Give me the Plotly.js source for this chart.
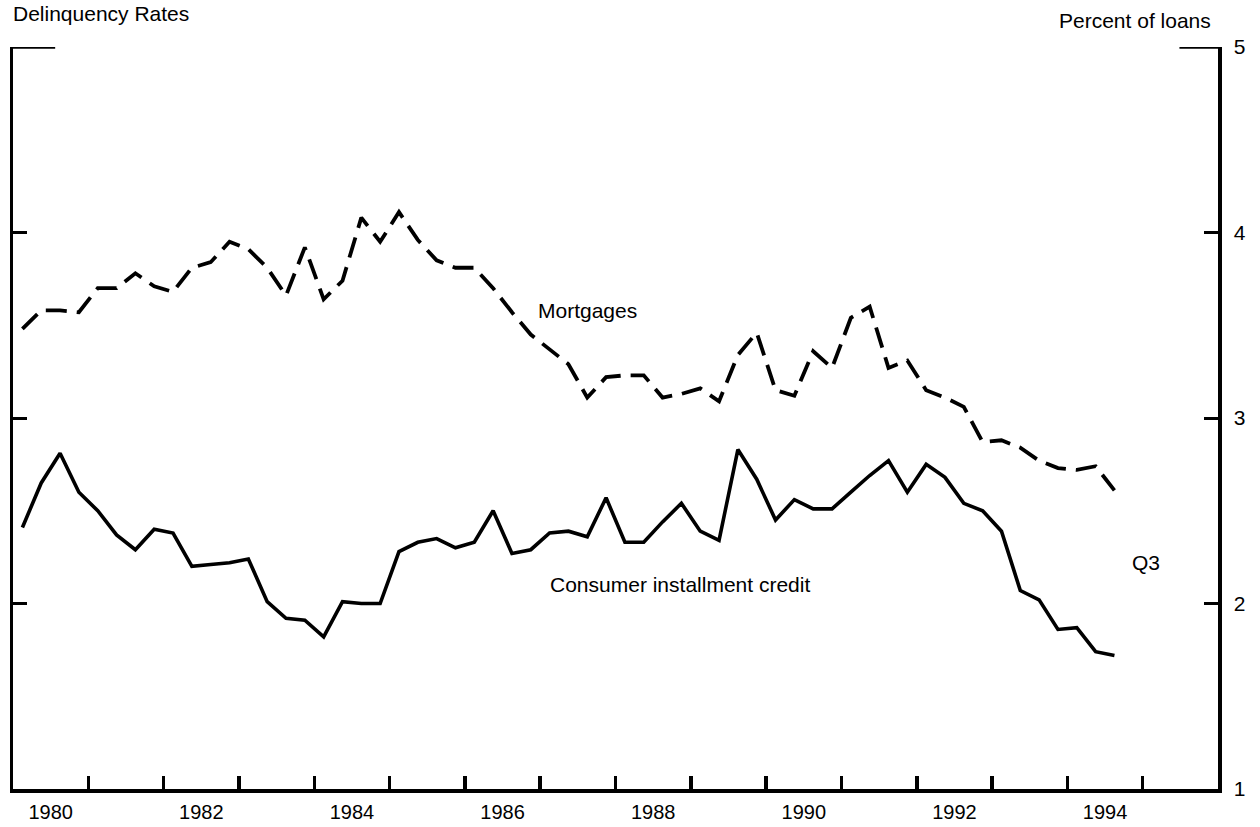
<!DOCTYPE html>
<html>
<head>
<meta charset="utf-8">
<script src="https://cdn.plot.ly/plotly-3.0.1.min.js"></script>
<style>html,body{margin:0;padding:0;background:#fff;}#chart{width:1260px;height:827px;}</style>
</head>
<body>
<div id="chart"></div>
<script>
// Quarterly, 1980Q1 .. 1994Q3
const startYear = 1980;
const nQuarters = 59;
const mortgages = [
  3.48, 3.58, 3.58, 3.57,
  3.70, 3.70, 3.78, 3.71,
  3.68, 3.81, 3.84, 3.95,
  3.91, 3.81, 3.66, 3.92,
  3.64, 3.74, 4.08, 3.95,
  4.11, 3.96, 3.85, 3.81,
  3.81, 3.70, 3.57, 3.45,
  3.37, 3.29, 3.11, 3.22,
  3.23, 3.23, 3.11, 3.13,
  3.16, 3.09, 3.34, 3.46,
  3.15, 3.12, 3.36, 3.27,
  3.54, 3.60, 3.27, 3.31,
  3.15, 3.11, 3.06, 2.87,
  2.88, 2.84, 2.77, 2.73,
  2.72, 2.74, 2.61
];
const consumer = [
  2.41, 2.65, 2.81, 2.60,
  2.50, 2.37, 2.29, 2.40,
  2.38, 2.20, 2.21, 2.22,
  2.24, 2.01, 1.92, 1.91,
  1.82, 2.01, 2.00, 2.00,
  2.28, 2.33, 2.35, 2.30,
  2.33, 2.50, 2.27, 2.29,
  2.38, 2.39, 2.36, 2.57,
  2.33, 2.33, 2.44, 2.54,
  2.39, 2.34, 2.83, 2.67,
  2.45, 2.56, 2.51, 2.51,
  2.60, 2.69, 2.77, 2.60,
  2.75, 2.68, 2.54, 2.50,
  2.39, 2.07, 2.02, 1.86,
  1.87, 1.74, 1.72
];
const yearLabels = ['1980','1982','1984','1986','1988','1990','1992','1994'];
const yTicks = [1, 2, 3, 4, 5];

// x position of each quarter: middle of the quarter
const quarterX = [];
for (let i = 0; i < nQuarters; i++) quarterX.push(startYear + i / 4 + 0.125);
const labelPos = yearLabels.map(y => Number(y) + 0.5);
const yearBounds = [];
for (let y = 1981; y <= 1995; y++) yearBounds.push(y);

const FONT = '"Liberation Sans", Arial, Helvetica, sans-serif';

const traces = [
  { x: quarterX, y: mortgages, type: 'scatter', mode: 'lines', name: 'Mortgages',
    line: { color: '#000', width: 3.8, dash: '21px,10px' }, hoverinfo: 'x+y' },
  { x: quarterX, y: consumer, type: 'scatter', mode: 'lines', name: 'Consumer installment credit',
    line: { color: '#000', width: 3.6 }, hoverinfo: 'x+y' }
];

const layout = {
  width: 1260, height: 827,
  margin: { l: 13, r: 42, t: 47, b: 38 },
  paper_bgcolor: '#fff', plot_bgcolor: '#fff',
  showlegend: false,
  font: { family: FONT, color: '#000', size: 20 },
  xaxis: {
    range: [1980, 1996], showgrid: false, zeroline: false,
    showline: true, linewidth: 3.5, linecolor: '#000',
    tickmode: 'array', tickvals: labelPos, ticktext: yearLabels,
    ticks: '', ticklabelstandoff: 2,
    tickfont: { family: FONT, size: 20, color: '#000' },
    minor: { tickmode: 'array', tickvals: yearBounds, ticks: 'inside', ticklen: 13, tickwidth: 3.5, tickcolor: '#000', showgrid: false },
    fixedrange: true
  },
  yaxis: {
    range: [1, 5], side: 'right', showgrid: false, zeroline: false,
    showline: true, linewidth: 3.5, linecolor: '#000', mirror: 'ticks',
    tickmode: 'array', tickvals: yTicks, ticktext: yTicks.map(String),
    ticks: 'inside', ticklen: 14, tickwidth: 3, tickcolor: '#000',
    ticklabelstandoff: 8,
    tickfont: { family: FONT, size: 21, color: '#000' },
    fixedrange: true
  },
  shapes: [
    { type: 'line', xref: 'paper', yref: 'y', x0: 0, x1: 0.035, y0: 5, y1: 5, line: { color: '#000', width: 3.5 } },
    { type: 'line', xref: 'paper', yref: 'y', x0: 1, x1: 0.968, y0: 5, y1: 5, line: { color: '#000', width: 3.5 } }
  ],
  annotations: [
    { text: 'Delinquency Rates', xref: 'paper', yref: 'paper', x: -0.002, y: 1.0633,
      xanchor: 'left', yanchor: 'top', showarrow: false, font: { family: FONT, size: 21, color: '#000' } },
    { text: 'Percent of loans', xref: 'paper', yref: 'paper', x: 0.996, y: 1.036,
      xanchor: 'right', yanchor: 'middle', showarrow: false, font: { family: FONT, size: 21, color: '#000' } },
    { text: 'Mortgages', xref: 'x', yref: 'y', x: 1987.63, y: 3.58,
      xanchor: 'center', yanchor: 'middle', showarrow: false, font: { family: FONT, size: 21, color: '#000' } },
    { text: 'Consumer installment credit', xref: 'x', yref: 'y', x: 1987.1, y: 2.1,
      xanchor: 'left', yanchor: 'middle', showarrow: false, font: { family: FONT, size: 21, color: '#000' } },
    { text: 'Q3', xref: 'x', yref: 'y', x: 1995.04, y: 2.22,
      xanchor: 'center', yanchor: 'middle', showarrow: false, font: { family: FONT, size: 21, color: '#000' } }
  ]
};

Plotly.newPlot('chart', traces, layout, { displayModeBar: false, staticPlot: true });
</script>
</body>
</html>
